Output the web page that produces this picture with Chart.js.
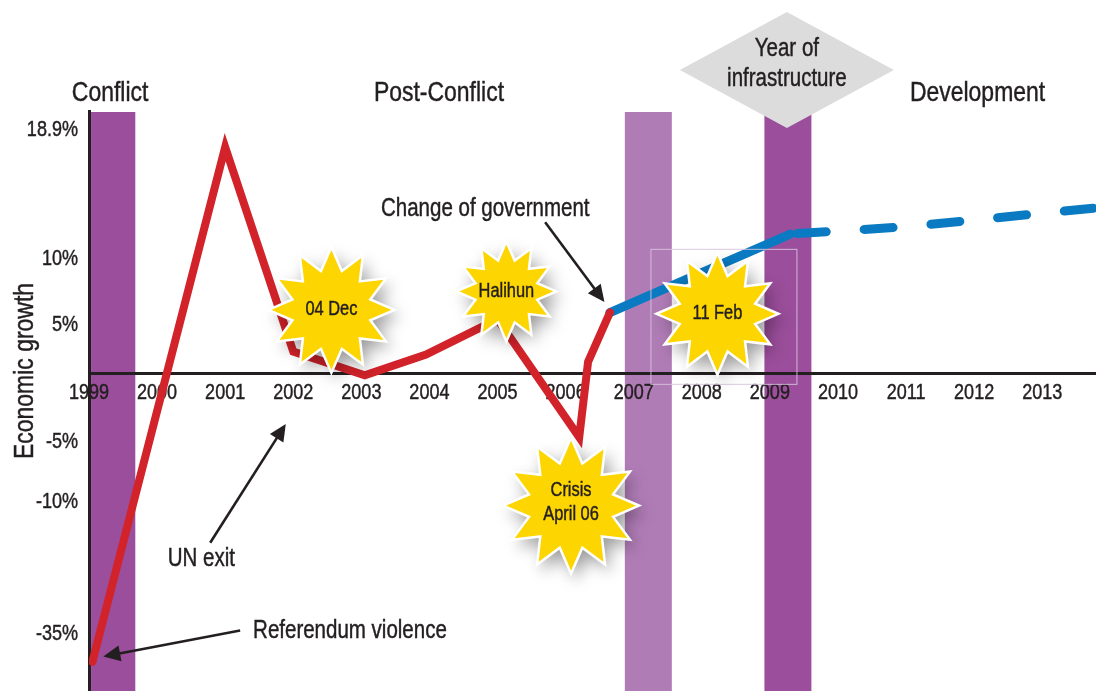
<!DOCTYPE html>
<html>
<head>
<meta charset="utf-8">
<script src="https://cdn.jsdelivr.net/npm/chart.js@4.4.1/dist/chart.umd.min.js"></script>
<style>
  html, body { margin: 0; padding: 0; background: #ffffff; }
  canvas { display: block; }
</style>
</head>
<body>
<canvas id="chart" width="1096" height="691"></canvas>
<script>
// ================= DATA =================
const yearTicks = [1999, 2000, 2001, 2002, 2003, 2004, 2005, 2006, 2007, 2008, 2009, 2010, 2011, 2012, 2013];
const growthTicks = [-35, -10, -5, 5, 10, 18.9];
const growthTickLabels = ['-35%', '-10%', '-5%', '5%', '10%', '18.9%'];

// actual economic growth (red)
const actualYears  = [1999.05, 2001.0, 2002.0, 2003.05, 2003.95, 2005.0, 2006.2, 2006.33, 2006.65];
const actualGrowth = [-40.5,   17.6,   2.2,    -0.1,    1.9,     5.3,    -4.8,   1.2,     5.8];

// projected growth (blue)
const forecastYears  = [2006.65, 2009.3, 2011.0, 2013.79];
const forecastGrowth = [5.8,     11.6,   12.1,   13.4];

// period headers
const periodNames = ['Conflict', 'Post-Conflict', 'Development'];
const periodYears = [1999.31, 2004.14, 2012.05];

// highlighted years (vertical bands)
const bandStartYears = [1999.03, 2006.87, 2008.92];
const bandEndYears   = [1999.68, 2007.56, 2009.61];

// events (starbursts)
const eventLabels = [['04 Dec'], ['Halihun'], ['Crisis', 'April 06'], ['11 Feb']];
const eventYears  = [2002.56, 2005.13, 2006.08, 2008.23];
const eventGrowth = [6.0, 7.4, -11.1, 5.7];

// callouts
const calloutLabels = ['Change of government', 'UN exit', 'Referendum violence'];
const calloutYears  = [2004.82, 2000.65, 2001.41];
const calloutGrowth = [13.45, -20.7, -34.4];
const arrowFromYears  = [2005.70, 2000.78, 2001.22];
const arrowFromGrowth = [12.41, -18.08, -34.6];
const arrowToYears    = [2006.57, 2001.89, 1999.21];
const arrowToGrowth   = [6.59, -3.79, -39.5];

const milestoneLabel = ['Year of', 'infrastructure'];
const milestoneYear = 2009.25;
const axisTitle = 'Economic growth';

// ================= STYLE / SCALE CONFIG =================
const FONT = "'Liberation Sans', Arial, sans-serif";
const NARROW = 0.82;
const INK = '#231f20';
const bandColors = ['#9b4e9b', '#b07cb6', '#9b4e9b'];
const calloutAlign = ['center', 'center', 'left'];
const starSizes = [63, 50, 68, 61];

// printed axis is not linear: relative spacing of the printed values
const AXIS_VALUES = [-35, -10, -5, 0, 5, 10, 18.9];
const AXIS_SLOTS  = [633, 500, 440, 374, 323, 257, 128];

function slotOf(v) {
  const n = AXIS_VALUES.length;
  let i = 0;
  if (v <= AXIS_VALUES[0]) i = 0;
  else if (v >= AXIS_VALUES[n - 1]) i = n - 2;
  else { while (v > AXIS_VALUES[i + 1]) i++; }
  const v0 = AXIS_VALUES[i], v1 = AXIS_VALUES[i + 1], s0 = AXIS_SLOTS[i], s1 = AXIS_SLOTS[i + 1];
  return s0 + (v - v0) * (s1 - s0) / (v1 - v0);
}
function valueOfSlot(s) {
  const n = AXIS_SLOTS.length;
  let i = 0;
  if (s >= AXIS_SLOTS[0]) i = 0;
  else if (s <= AXIS_SLOTS[n - 1]) i = n - 2;
  else { while (s < AXIS_SLOTS[i + 1]) i++; }
  const v0 = AXIS_VALUES[i], v1 = AXIS_VALUES[i + 1], s0 = AXIS_SLOTS[i], s1 = AXIS_SLOTS[i + 1];
  return v0 + (s - s0) * (v1 - v0) / (s1 - s0);
}

class WarpScale extends Chart.LinearScale {
  getPixelForValue(value) {
    const a = slotOf(this.min), b = slotOf(this.max);
    return this.getPixelForDecimal((a - slotOf(value)) / (a - b));
  }
  getValueForPixel(pixel) {
    const a = slotOf(this.min), b = slotOf(this.max);
    const d = this.getDecimalForPixel(pixel);
    return valueOfSlot(a - d * (a - b));
  }
}
WarpScale.id = 'warp';
WarpScale.defaults = {};
Chart.register(WarpScale);

function pts(xs, ys) { return xs.map((x, i) => ({ x: x, y: ys[i] })); }

// condensed text, vertically centred on the cap height
function text(ctx, s, x, y, size, align, rot) {
  ctx.save();
  ctx.translate(x, y);
  if (rot) ctx.rotate(rot);
  ctx.scale(NARROW, 1);
  ctx.font = size + 'px ' + FONT;
  ctx.textAlign = align || 'center';
  ctx.textBaseline = 'alphabetic';
  ctx.fillStyle = INK;
  ctx.strokeStyle = INK;
  ctx.lineWidth = 0.45;
  const by = 0.358 * size;
  ctx.fillText(s, 0, by);
  ctx.strokeText(s, 0, by);
  ctx.restore();
}

function starPath(ctx, cx, cy, R, r, n) {
  ctx.beginPath();
  for (let i = 0; i < 2 * n; i++) {
    const rad = i % 2 === 0 ? R : r;
    const a = -Math.PI / 2 + i * Math.PI / n;
    const px = cx + rad * Math.cos(a), py = cy + rad * Math.sin(a);
    if (i === 0) ctx.moveTo(px, py); else ctx.lineTo(px, py);
  }
  ctx.closePath();
}

function arrow(ctx, x1, y1, x2, y2) {
  const ang = Math.atan2(y2 - y1, x2 - x1);
  const head = 17, half = 8;
  const bx = x2 - head * Math.cos(ang), by = y2 - head * Math.sin(ang);
  ctx.save();
  ctx.strokeStyle = INK; ctx.fillStyle = INK; ctx.lineWidth = 2.6;
  ctx.beginPath(); ctx.moveTo(x1, y1); ctx.lineTo(bx + 2 * Math.cos(ang), by + 2 * Math.sin(ang)); ctx.stroke();
  ctx.beginPath();
  ctx.moveTo(x2, y2);
  ctx.lineTo(bx + half * Math.sin(ang), by - half * Math.cos(ang));
  ctx.lineTo(bx - half * Math.sin(ang), by + half * Math.cos(ang));
  ctx.closePath(); ctx.fill();
  ctx.restore();
}

const decor = {
  id: 'decor',
  beforeDraw(chart) {
    const { ctx, chartArea, scales: { x } } = chart;
    ctx.save();
    bandStartYears.forEach((s, i) => {
      const x0 = x.getPixelForValue(s), x1 = x.getPixelForValue(bandEndYears[i]);
      ctx.fillStyle = bandColors[i];
      ctx.fillRect(x0, chartArea.top + 1, x1 - x0, chartArea.bottom - chartArea.top);
    });
    ctx.restore();
  },
  beforeDatasetsDraw(chart) {
    const { ctx, scales: { x, y } } = chart;
    // tick labels (drawn from the scales' own ticks)
    const axisY = y.getPixelForValue(0);
    x.ticks.forEach((t, i) => text(ctx, String(t.value), x.getPixelForTick(i), axisY + 17, 22, 'center'));
    y.ticks.forEach((t, i) => text(ctx, growthTickLabels[growthTicks.indexOf(t.value)], x.left - 11, y.getPixelForTick(i), 22, 'right'));
  },
  afterDatasetsDraw(chart) {
    const { ctx, chartArea, scales: { x, y } } = chart;
    ctx.save();
    // faint frame behind the last event
    {
      const cx = x.getPixelForValue(eventYears[3]), cy = y.getPixelForValue(eventGrowth[3]);
      ctx.strokeStyle = 'rgba(215,195,222,0.9)'; ctx.lineWidth = 1;
      ctx.strokeRect(cx - 66.5, cy - 64.5, 146, 135);
    }
    // starbursts
    eventLabels.forEach((lines, i) => {
      const cx = x.getPixelForValue(eventYears[i]), cy = y.getPixelForValue(eventGrowth[i]);
      const R = starSizes[i], r = R * 0.64;
      ctx.save();
      ctx.shadowColor = 'rgba(0,0,0,0.4)'; ctx.shadowBlur = 16; ctx.shadowOffsetX = 5; ctx.shadowOffsetY = 7;
      starPath(ctx, cx, cy, R, r, 12);
      ctx.fillStyle = '#fdd500'; ctx.fill();
      ctx.restore();
      starPath(ctx, cx, cy, R, r, 12);
      ctx.strokeStyle = '#ffffff'; ctx.lineWidth = 2.5; ctx.lineJoin = 'miter'; ctx.stroke();
      if (lines.length > 1) {
        text(ctx, lines[0], cx, cy - 17, 20, 'center');
        text(ctx, lines[1], cx, cy + 7, 20, 'center');
      } else {
        text(ctx, lines[0], cx, cy - 2, 20, 'center');
      }
    });
    // callouts
    calloutLabels.forEach((t, i) => {
      arrow(ctx, x.getPixelForValue(arrowFromYears[i]), y.getPixelForValue(arrowFromGrowth[i]),
                 x.getPixelForValue(arrowToYears[i]), y.getPixelForValue(arrowToGrowth[i]));
      text(ctx, t, x.getPixelForValue(calloutYears[i]), y.getPixelForValue(calloutGrowth[i]), 25, calloutAlign[i]);
    });
    // period headers
    periodNames.forEach((t, i) => text(ctx, t, x.getPixelForValue(periodYears[i]), chartArea.top - 20, 28, 'center'));
    // milestone diamond
    const dx = x.getPixelForValue(milestoneYear), dy = chartArea.top - 41;
    ctx.beginPath();
    ctx.moveTo(dx - 107, dy); ctx.lineTo(dx, dy - 58); ctx.lineTo(dx + 107, dy); ctx.lineTo(dx, dy + 58); ctx.closePath();
    ctx.fillStyle = '#dcdcdc'; ctx.fill();
    text(ctx, milestoneLabel[0], dx, dy - 23, 25, 'center');
    text(ctx, milestoneLabel[1], dx, dy + 7, 25, 'center');
    // y-axis title
    text(ctx, axisTitle, 23, y.getPixelForValue(0) - 3, 28, 'center', -Math.PI / 2);
    ctx.restore();
  }
};

new Chart(document.getElementById('chart'), {
  type: 'line',
  data: {
    datasets: [
      {
        label: 'Actual',
        data: pts(actualYears, actualGrowth),
        borderColor: '#d2232a',
        borderWidth: 8,
        borderCapStyle: 'round',
        borderJoinStyle: 'miter',
        pointRadius: 0,
        tension: 0,
        fill: false
      },
      {
        label: 'Projected',
        data: pts(forecastYears, forecastGrowth),
        borderColor: '#0a7bc2',
        borderWidth: 9,
        borderCapStyle: 'round',
        borderJoinStyle: 'round',
        pointRadius: 0,
        tension: 0,
        fill: false,
        segment: {
          borderDash: c => c.p0DataIndex >= 1 ? [29, 38] : [],
          borderDashOffset: c => c.p0DataIndex >= 1 ? -7 : 0
        }
      }
    ]
  },
  options: {
    responsive: false,
    animation: false,
    events: [],
    layout: { padding: { top: 111, left: 0, right: 0, bottom: 0 } },
    plugins: { legend: { display: false }, tooltip: { enabled: false }, title: { display: false } },
    scales: {
      x: {
        type: 'linear',
        min: 1999,
        max: 2013.79,
        position: { y: 0 },
        afterBuildTicks: s => { s.ticks = yearTicks.map(v => ({ value: v })); },
        ticks: { display: false, autoSkip: false, maxRotation: 0 },
        grid: { display: true, color: 'transparent', drawTicks: false },
        border: { display: true, color: INK, width: 3 }
      },
      y: {
        type: 'warp',
        min: -46,
        max: 20.1,
        position: 'left',
        afterFit: s => { s.width = 89; },
        afterBuildTicks: s => { s.ticks = growthTicks.map(v => ({ value: v })); },
        ticks: { display: false, autoSkip: false },
        grid: { display: true, color: 'transparent', drawTicks: false },
        border: { display: true, color: INK, width: 3 }
      }
    }
  },
  plugins: [decor]
});
</script>
</body>
</html>
